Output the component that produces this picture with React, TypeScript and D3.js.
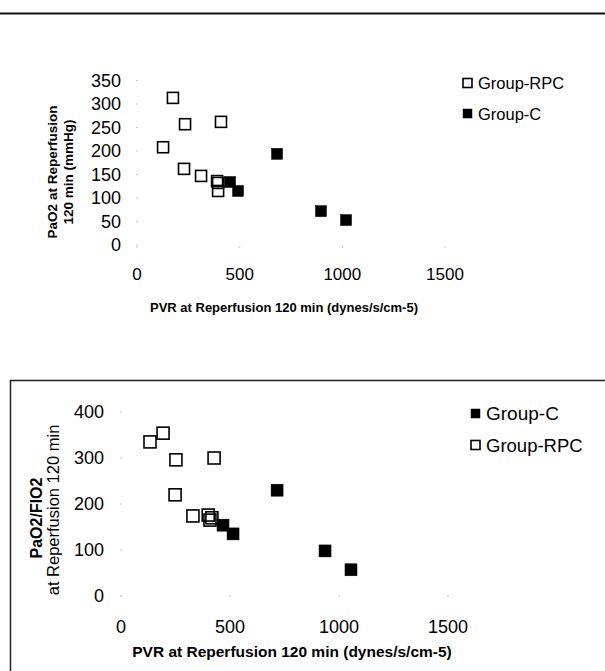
import React from "react";
import * as d3 from "d3";

// ---- Data ----
const xTicks = [0, 500, 1000, 1500];
const yTicksTop = [0, 50, 100, 150, 200, 250, 300, 350];
const yTicksBottom = [0, 100, 200, 300, 400];

// Top chart: PaO2 vs PVR
const topRPC_x = [175, 234, 409, 127, 229, 312, 390, 395, 395];
const topRPC_y = [313, 257, 262, 208, 162, 147, 136, 132, 115];
const topC_x = [453, 492, 682, 896, 1018];
const topC_y = [134, 115, 194, 72, 53];

// Bottom chart: PaO2/FiO2 vs PVR
const botRPC_x = [133, 193, 252, 427, 248, 330, 400, 408, 417];
const botRPC_y = [335, 354, 296, 300, 220, 174, 176, 165, 170];
const botC_x = [468, 514, 716, 936, 1055];
const botC_y = [154, 135, 230, 98, 57];

const FONT = "Liberation Sans, Arial, sans-serif";

export default function App() {
  // top scales
  const xT = d3.scaleLinear().domain([0, 1500]).range([137, 445]);
  const yT = d3.scaleLinear().domain([0, 350]).range([245, 80.5]);
  // bottom scales
  const xB = d3.scaleLinear().domain([0, 1500]).range([121, 448]);
  const yB = d3.scaleLinear().domain([0, 400]).range([596, 412]);

  const sq = (cx: number, cy: number, s: number, filled: boolean, key: string) => (
    <rect
      key={key}
      x={cx - s / 2}
      y={cy - s / 2}
      width={s}
      height={s}
      fill={filled ? "#000" : "none"}
      stroke="#000"
      strokeWidth={filled ? 0.5 : 1.6}
    />
  );

  return (
    <svg
      width={605}
      height={671}
      style={{ position: "absolute", left: 0, top: 0, background: "#fff" }}
      fontFamily={FONT}
    >
      <rect x={0} y={0} width={605} height={671} fill="#fff" />
      {/* top rule */}
      <line x1={0} x2={605} y1={13.5} y2={13.5} stroke="#111" strokeWidth={2} />

      {/* ===== Top chart ===== */}
      {yTicksTop.map((t) => (
        <g key={"yt" + t}>
          <text x={121} y={yT(t)} textAnchor="end" dominantBaseline="central" fontSize={18}>
            {t}
          </text>
          <rect x={xT(0) - 0.5} y={yT(t) - 0.5} width={1} height={1} fill="#999" />
        </g>
      ))}
      {xTicks.map((t) => (
        <g key={"xt" + t}>
          <text x={xT(t)} y={274} textAnchor="middle" dominantBaseline="central" fontSize={17}>
            {t}
          </text>
          <rect x={xT(t) - 0.5} y={yT(0) + 1.5} width={1} height={1} fill="#999" />
        </g>
      ))}
      <text
        transform={`translate(52,172) rotate(-90)`}
        textAnchor="middle"
        dominantBaseline="central"
        fontSize={13.5}
        fontWeight="bold"
      >
        PaO2 at Reperfusion
      </text>
      <text
        transform={`translate(68.5,172) rotate(-90)`}
        textAnchor="middle"
        dominantBaseline="central"
        fontSize={13.5}
        fontWeight="bold"
      >
        120 min (mmHg)
      </text>
      <text x={284} y={307} textAnchor="middle" dominantBaseline="central" fontSize={13} fontWeight="bold">
        PVR at Reperfusion 120 min (dynes/s/cm-5)
      </text>
      {topRPC_x.map((v, i) => sq(xT(v), yT(topRPC_y[i]), 11, false, "tr" + i))}
      {topC_x.map((v, i) => sq(xT(v), yT(topC_y[i]), 11, true, "tc" + i))}
      {/* top legend */}
      {sq(467.5, 83, 9, false, "lg1")}
      <text x={478} y={83} dominantBaseline="central" fontSize={16.5}>
        Group-RPC
      </text>
      {sq(467.5, 113.5, 9, true, "lg2")}
      <text x={478} y={113.5} dominantBaseline="central" fontSize={16.5}>
        Group-C
      </text>

      {/* ===== Bottom chart ===== */}
      <line x1={10} x2={605} y1={380.5} y2={380.5} stroke="#222" strokeWidth={1.5} />
      <line x1={10.5} x2={10.5} y1={380} y2={671} stroke="#222" strokeWidth={1.5} />
      {yTicksBottom.map((t) => (
        <g key={"yb" + t}>
          <text x={104} y={yB(t)} textAnchor="end" dominantBaseline="central" fontSize={18}>
            {t}
          </text>
          <rect x={xB(0) - 0.5} y={yB(t) - 0.5} width={1} height={1} fill="#999" />
        </g>
      ))}
      {xTicks.map((t) => (
        <g key={"xb" + t}>
          <text x={xB(t)} y={627} textAnchor="middle" dominantBaseline="central" fontSize={18}>
            {t}
          </text>
          <rect x={xB(t) - 0.5} y={yB(0) - 0.5} width={1} height={1} fill="#999" />
        </g>
      ))}
      <text
        transform={`translate(36,518) rotate(-90)`}
        textAnchor="middle"
        dominantBaseline="central"
        fontSize={16}
        fontWeight="bold"
      >
        PaO2/FIO2
      </text>
      <text
        transform={`translate(53,510) rotate(-90)`}
        textAnchor="middle"
        dominantBaseline="central"
        fontSize={16.5}
      >
        at Reperfusion 120 min
      </text>
      <text x={292} y={651} textAnchor="middle" dominantBaseline="central" fontSize={15.5} fontWeight="bold">
        PVR at Reperfusion 120 min (dynes/s/cm-5)
      </text>
      {botRPC_x.map((v, i) => sq(xB(v), yB(botRPC_y[i]), 12, false, "br" + i))}
      {botC_x.map((v, i) => sq(xB(v), yB(botC_y[i]), 12, true, "bc" + i))}
      {/* bottom legend */}
      {sq(475.5, 413.5, 9, true, "lg3")}
      <text x={486} y={413.5} dominantBaseline="central" fontSize={19}>
        Group-C
      </text>
      {sq(475.5, 445, 9, false, "lg4")}
      <text x={486} y={445} dominantBaseline="central" fontSize={18.5}>
        Group-RPC
      </text>
    </svg>
  );
}
